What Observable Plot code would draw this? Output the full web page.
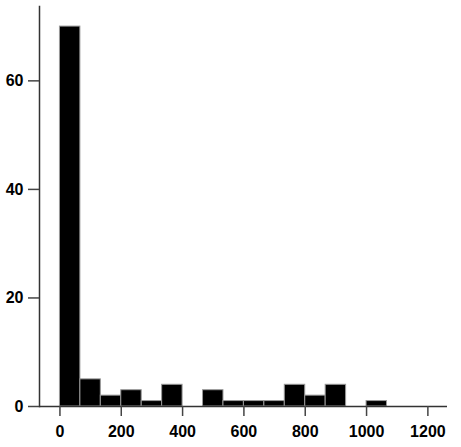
<!DOCTYPE html>
<html>
<head>
<meta charset="utf-8">
<script src="https://cdn.jsdelivr.net/npm/d3@7"></script>
<script src="https://cdn.jsdelivr.net/npm/@observablehq/plot@0.6"></script>
<style>
  html, body { margin: 0; padding: 0; background: #fff; }
  svg { display: block; }
</style>
</head>
<body>
<div id="chart"></div>
<script>
// Histogram data
const binWidth = 1000 / 15;
const counts = [70, 5, 2, 3, 1, 4, 0, 3, 1, 1, 1, 4, 2, 4, 0, 1];
const xTicks = [0, 200, 400, 600, 800, 1000, 1200];
const yTicks = [0, 20, 40, 60];

const bins = counts.map((c, i) => ({x1: i * binWidth, x2: (i + 1) * binWidth, count: c}));

const chart = Plot.plot({
  width: 461,
  height: 447,
  marginLeft: 39,
  marginRight: 14,
  marginTop: 6,
  marginBottom: 41,
  style: {fontFamily: "Liberation Sans, Arial, sans-serif", fontSize: "16px", fontWeight: "bold", color: "#000", background: "#fff"},
  x: {domain: [-binWidth, 1264]},
  y: {domain: [0, 73.7]},
  marks: [
    Plot.rectY(bins.filter(d => d.count > 0), {x1: "x1", x2: "x2", y: "count", fill: "#000", stroke: "#999", strokeWidth: 1}),
    Plot.ruleY([0], {stroke: "#333", strokeWidth: 1.5}),
    Plot.frame({anchor: "left", stroke: "#333", strokeWidth: 1.5}),
    Plot.axisX(xTicks, {tickSize: 10, tickPadding: 9, stroke: "#444", strokeWidth: 1.5, label: null, fontSize: 16, fontWeight: "bold", fill: "#000", tickFormat: d => String(d)}),
    Plot.axisY(yTicks, {tickSize: 11, tickPadding: 5, stroke: "#444", strokeWidth: 1.5, label: null, fontSize: 16, fontWeight: "bold", fill: "#000", tickFormat: d => String(d)})
  ]
});
document.getElementById("chart").appendChild(chart);
</script>
</body>
</html>
